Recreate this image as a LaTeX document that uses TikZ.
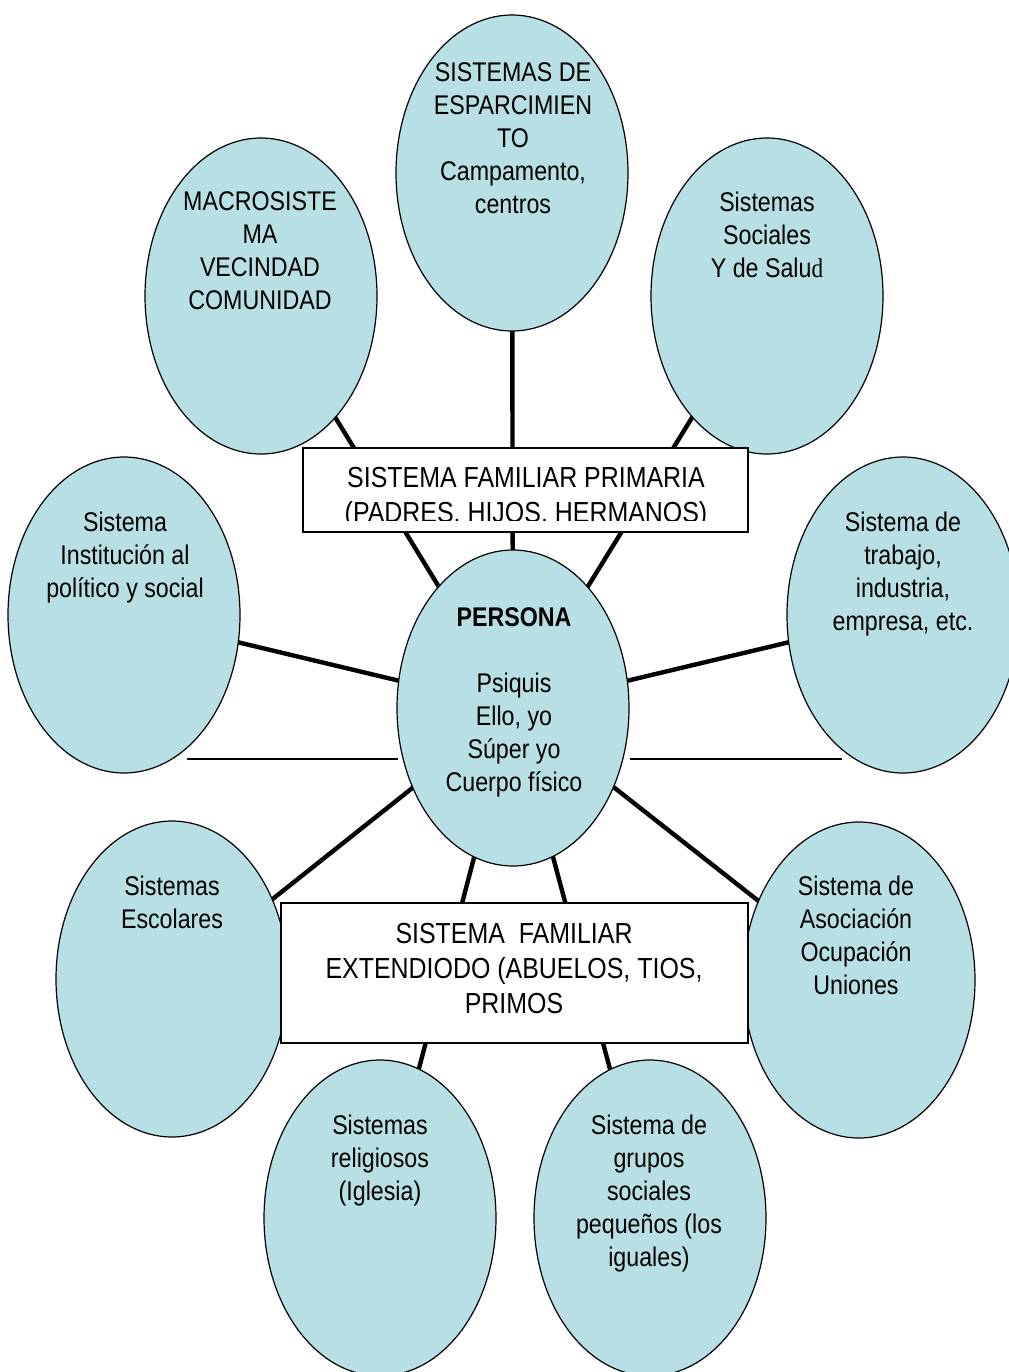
\documentclass[tikz,border=0pt]{standalone}
\usepackage{fontspec}
\setmainfont{Liberation Sans}[FakeStretch=0.86]
\newfontfamily\serifd{Liberation Serif}[FakeStretch=0.86]
\usetikzlibrary{shapes.geometric,backgrounds}
\definecolor{ovalblue}{RGB}{184,223,228}

\begin{document}
\begin{tikzpicture}[x=0.5pt,y=-0.5pt,
	oval/.style={ellipse,draw,line width=0.6pt,fill=ovalblue,minimum width=116pt,minimum height=158pt,inner sep=0pt},
	ovaltext/.style={anchor=north,align=center,inner sep=0pt,font=\fontsize{13.5}{16.5}\selectfont},
	fambox/.style={draw,fill=white,line width=0.7pt,inner sep=0pt},
	famtext/.style={anchor=north,align=center,inner sep=0pt,font=\fontsize{14.5}{17.5}\selectfont},
	link/.style={line width=2.2pt}]
	\useasboundingbox (0,0) rectangle (1008,1372);
	
	\node[oval] (esp) at (512,173) {};
	\node[oval] (macro) at (261,296) {};
	\node[oval] (salud) at (767,296) {};
	\node[oval] (inst) at (124,615) {};
	\node[oval] (trab) at (903,615) {};
	\node[oval] (persona) at (513,708) {};
	\node[oval] (esc) at (172,979) {};
	\node[oval] (asoc) at (859,980) {};
	\node[oval] (relig) at (380,1218) {};
	\node[oval] (grupos) at (650,1218) {};
	
	\node[ovaltext] (esptext) at (513,62) {SISTEMAS DE\\ESPARCIMIEN\\TO\\Campamento,\\centros};
	\node[ovaltext] (macrotext) at (260,191) {MACROSISTE\\MA\\VECINDAD\\COMUNIDAD};
	\node[ovaltext] (saludtext) at (767,192) {Sistemas\\Sociales\\Y de Salu{\serifd d}};
	\node[ovaltext] (insttext) at (125,512) {Sistema\\Institución al\\político y social};
	\node[ovaltext] (trabtext) at (903,512) {Sistema de\\trabajo,\\industria,\\empresa, etc.};
	\node[ovaltext] (personatext) at (514,607) {\textbf{PERSONA}\\[16.5pt]Psiquis\\Ello, yo\\Súper yo\\Cuerpo físico};
	\node[ovaltext] (esctext) at (172,876) {Sistemas\\Escolares};
	\node[ovaltext] (asoctext) at (856,876) {Sistema de\\Asociación\\Ocupación\\Uniones};
	\node[ovaltext] (religtext) at (380,1115) {Sistemas\\religiosos\\(Iglesia)};
	\node[ovaltext] (grupostext) at (649,1115) {Sistema de\\grupos\\sociales\\pequeños (los\\iguales)};
	
	\node[fambox,minimum width=222.5pt,minimum height=42pt] (prim) at (525.5,490) {};
	\begin{scope}
	\clip (303,448) rectangle (748,520);
	\node[famtext] (primtext) at (526,467) {SISTEMA FAMILIAR PRIMARIA\\(PADRES. HIJOS. HERMANOS)};
	\end{scope}
	\node[fambox,minimum width=233.5pt,minimum height=70pt] (ext) at (514.5,973) {};
	\node[famtext] (exttext) at (514,923) {SISTEMA\ \ FAMILIAR\\EXTENDIODO (ABUELOS, TIOS,\\PRIMOS};
	
	\begin{scope}[on background layer]
	\draw[link] (persona.center) -- (esp.center);
	\draw[link] (persona.center) -- (macro.center);
	\draw[link] (persona.center) -- (salud.center);
	\draw[link] (persona.center) -- (inst.center);
	\draw[link] (persona.center) -- (trab.center);
	\draw[link] (persona.center) -- (esc.center);
	\draw[link] (persona.center) -- (asoc.center);
	\draw[link] (persona.center) -- (relig.center);
	\draw[link] (persona.center) -- (grupos.center);
	\end{scope}
	
	\coordinate (thinL1) at (187,759);
	\coordinate (thinL2) at (398,759);
	\coordinate (thinR1) at (630,759);
	\coordinate (thinR2) at (842,759);
	\draw[line width=0.85pt] (thinL1)--(thinL2);
	\draw[line width=0.85pt] (thinR1)--(thinR2);
\end{tikzpicture}
\end{document}
